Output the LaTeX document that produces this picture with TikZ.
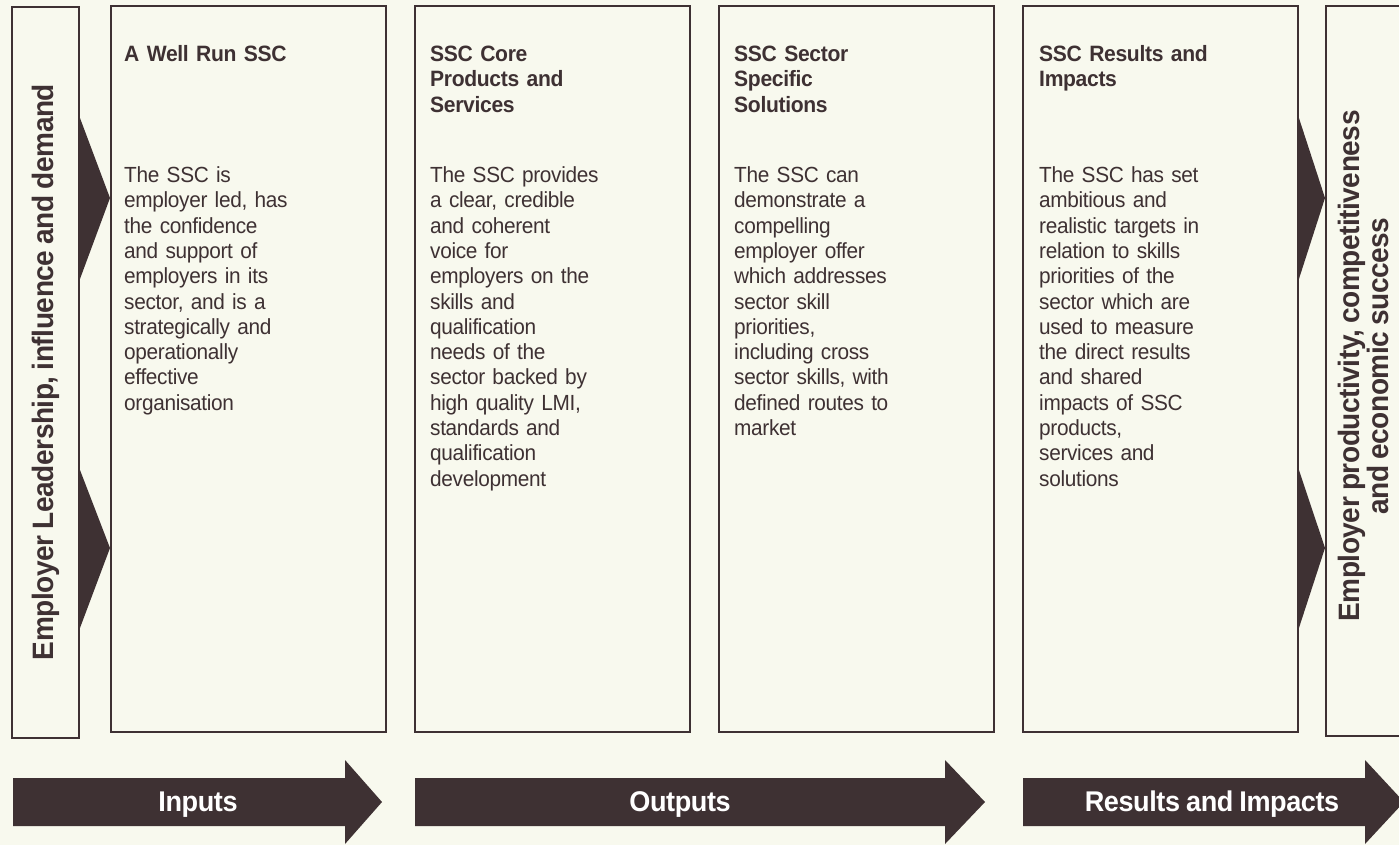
\documentclass[tikz,border=0pt]{standalone}
\usepackage{fontspec}
\setmainfont{Liberation Sans}[FakeStretch=0.95,LetterSpace=-1.5,WordSpace=0.85]
\usepackage{xcolor}
\usepackage{tikz}
\definecolor{CreamBg}{RGB}{248,249,238}
\definecolor{DarkPlum}{RGB}{62,49,51}

\tikzset{
  stagebox/.style={draw=DarkPlum,line width=1.6pt,anchor=north west,inner sep=0pt},
  stagehead/.style={anchor=base west,inner sep=0pt,text width=250pt,align=left,
    text=DarkPlum,font=\fontsize{22.2pt}{25.5pt}\selectfont\bfseries},
  stagetext/.style={anchor=base west,inner sep=0pt,text width=250pt,align=left,
    text=DarkPlum,font=\fontsize{21.9pt}{25.3pt}\selectfont},
  sidetext/.style={rotate=90,inner sep=0pt,align=center,text=DarkPlum,
    font=\fontsize{29.5pt}{29pt}\selectfont\bfseries},
  pointer/.style={fill=DarkPlum},
  flowbar/.style={fill=DarkPlum},
  flowlabel/.style={anchor=base,inner sep=0pt,text=white,
    font=\fontsize{28.5pt}{30pt}\selectfont\bfseries}
}

\begin{document}
\begin{tikzpicture}[x=1pt,y=-1pt]
    \fill[CreamBg] (0,0) rectangle (1399,845);
    \useasboundingbox (0,0) rectangle (1399,845);

    \node[stagebox,minimum width=67pt,minimum height=731pt] (lead) at (11,6) {};
    \node[stagebox,minimum width=275pt,minimum height=726pt] (wellrun) at (110,5) {};
    \node[stagebox,minimum width=275pt,minimum height=726pt] (core) at (414,5) {};
    \node[stagebox,minimum width=275pt,minimum height=726pt] (sector) at (718,5) {};
    \node[stagebox,minimum width=275pt,minimum height=726pt] (results) at (1022,5) {};
    \node[stagebox,minimum width=90pt,minimum height=730pt] (growth) at (1325,5) {};

    \node[sidetext] (leadtext) at (46,372) {Employer Leadership, influence and demand};
    \node[sidetext] (growthtext) at (1363,366)
      {Employer productivity, competitiveness\\and economic success};

    \fill[pointer] (lead.east |- 0,117) -- (wellrun.west |- 0,198) -- (lead.east |- 0,280) -- cycle;
    \fill[pointer] (lead.east |- 0,469) -- (wellrun.west |- 0,548) -- (lead.east |- 0,629) -- cycle;
    \fill[pointer] (results.east |- 0,117) -- (growth.west |- 0,198) -- (results.east |- 0,280) -- cycle;
    \fill[pointer] (results.east |- 0,469) -- (growth.west |- 0,548) -- (results.east |- 0,629) -- cycle;

    \node[stagehead] (wellrunhead) at (124,61.5) {A Well Run SSC};
    \node[stagetext] (wellruntext) at (124,182.5) {The SSC is\\
      employer led, has\\the confidence\\and support of\\employers in its\\
      sector, and is a\\strategically and\\operationally\\effective\\organisation};

    \node[stagehead] (corehead) at (430,61.5) {SSC Core\\Products and\\Services};
    \node[stagetext] (coretext) at (430,182.5) {The SSC provides\\
      a clear, credible\\and coherent\\voice for\\employers on the\\skills and\\
      qualification\\needs of the\\sector backed by\\high quality LMI,\\
      standards and\\qualification\\development};

    \node[stagehead] (sectorhead) at (734,61.5) {SSC Sector\\Specific\\Solutions};
    \node[stagetext] (sectortext) at (734,182.5) {The SSC can\\
      demonstrate a\\compelling\\employer offer\\which addresses\\sector skill\\
      priorities,\\including cross\\sector skills, with\\defined routes to\\market};

    \node[stagehead] (resultshead) at (1039,61.5) {SSC Results and\\Impacts};
    \node[stagetext] (resultstext) at (1039,182.5) {The SSC has set\\
      ambitious and\\realistic targets in\\relation to skills\\priorities of the\\
      sector which are\\used to measure\\the direct results\\and shared\\
      impacts of SSC\\products,\\services and\\solutions};

    \fill[flowbar] (13,778) -- (345,778) -- (345,760) -- (382,802) -- (345,844) -- (345,826) -- (13,826) -- cycle;
    \fill[flowbar] (415,778) -- (945,778) -- (945,760) -- (985,802) -- (945,844) -- (945,826) -- (415,826) -- cycle;
    \fill[flowbar] (1023,778) -- (1365,778) -- (1365,760) -- (1404,802) -- (1365,844) -- (1365,826) -- (1023,826) -- cycle;

    \node[flowlabel] (inputs) at (198,811) {Inputs};
    \node[flowlabel] (outputs) at (680,811) {Outputs};
    \node[flowlabel] (impacts) at (1212,811) {Results and Impacts};
\end{tikzpicture}
\end{document}
